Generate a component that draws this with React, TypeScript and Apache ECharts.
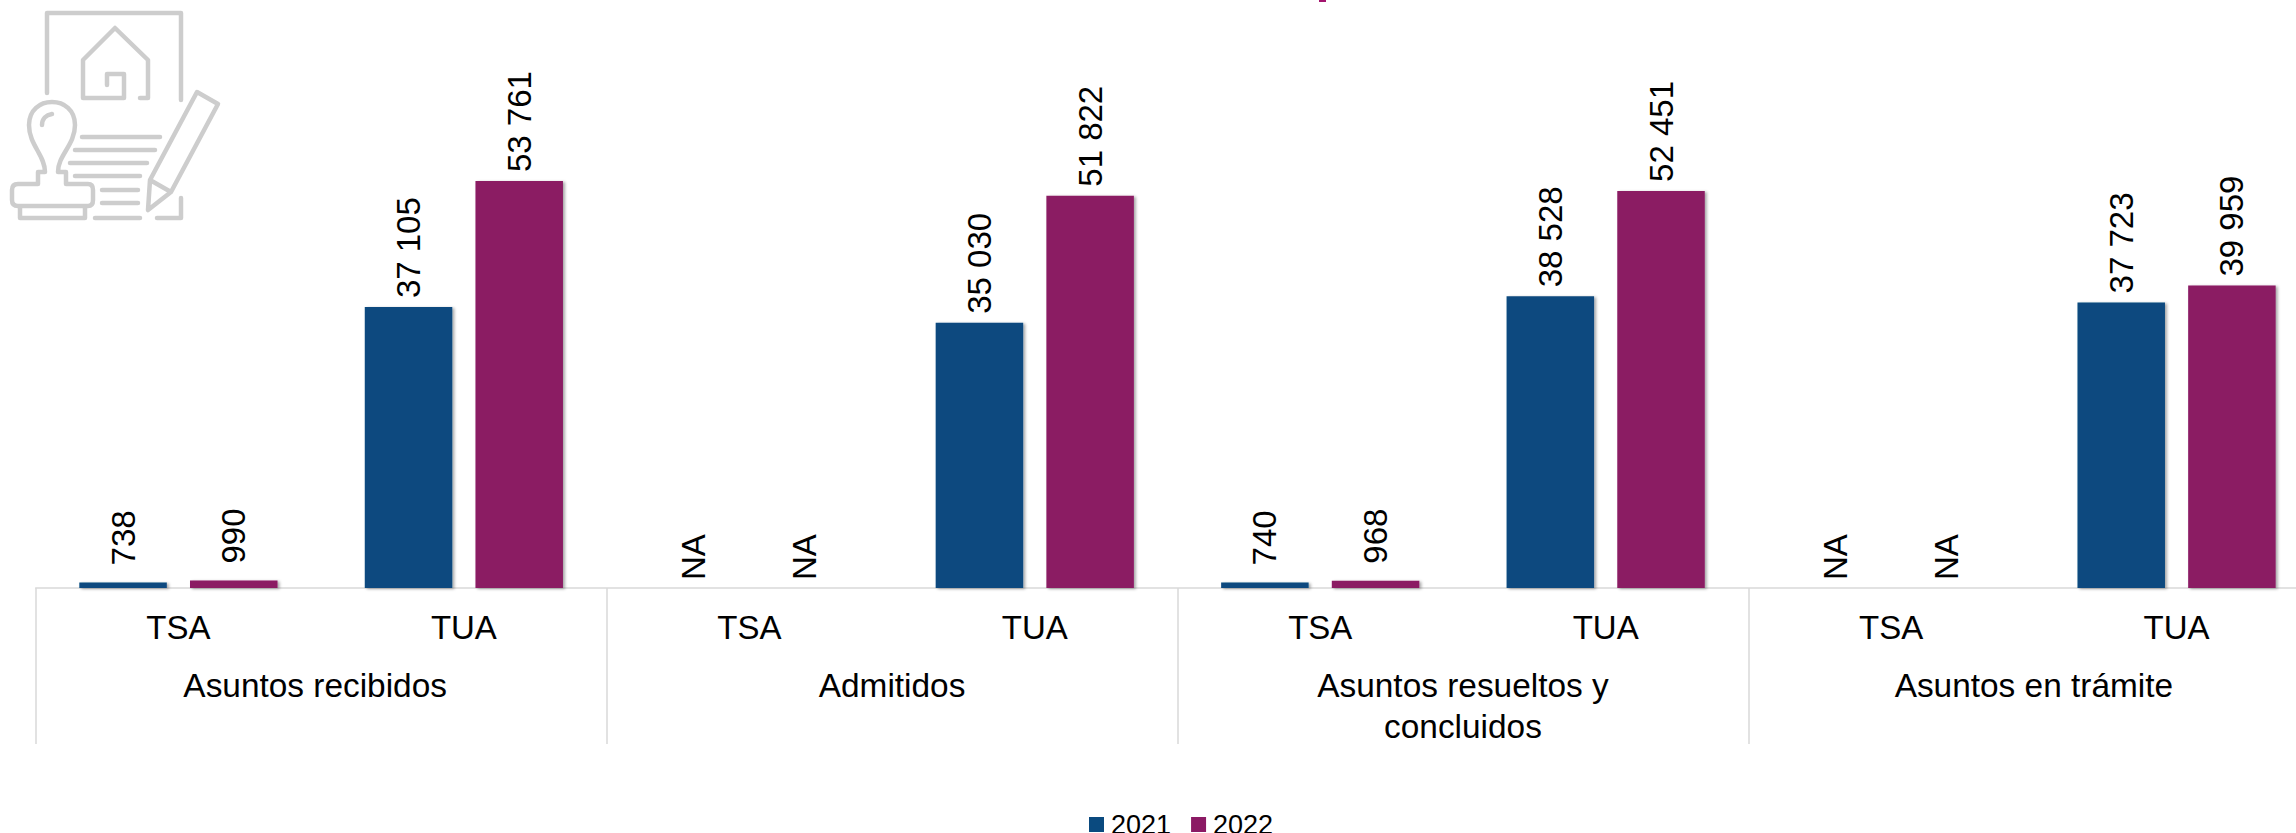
import React, { useEffect, useRef } from "react";
import * as echarts from "echarts";

const groups = ["Asuntos recibidos", "Admitidos", "Asuntos resueltos y\nconcluidos", "Asuntos en trámite"];
const tribunals = ["TSA", "TUA", "TSA", "TUA", "TSA", "TUA", "TSA", "TUA"];
const years = ["2021", "2022"];
const values2021: (number | null)[] = [738, 37105, null, 35030, 740, 38528, null, 37723];
const values2022: (number | null)[] = [990, 53761, null, 51822, 968, 52451, null, 39959];
const colors = ["#0A4A7F", "#8B1A64"];

const iconPath =
  "M47 93V13H181V100M181 198V218H157M95 218H140" +
  "M124 74V98H83V60L115 28L148 60V98H140M124 74H107V85" +
  "M197 92L218 104L171 192L148 210L150 180ZM150 180L171 192" +
  "M82 137H160M75 150H155M70 163H147M75 176H140M102 190H138M102 203H138" +
  "M45 172C45 155 29 145 29 125C29 110 40 102 52 102C64 102 75 110 75 125C75 145 58 155 58 172" +
  "M42 125C42 119 46 115 52 114" +
  "M45 172H38V184H18C14 184 12 186 12 190V200C12 204 14 206 18 206H88C91 206 93 204 93 200V190C93 186 91 184 88 184H66V172H58" +
  "M20 206V218H85V206";

echarts.graphic.registerShape("stampIcon", echarts.graphic.extendPath(iconPath, {}));

const fmt = (v: number | null) =>
  v === null ? "NA" : String(v).replace(/\B(?=(\d{3})+$)/g, " ");

const font = "'Liberation Sans', Arial, sans-serif";

export default function App() {
  const ref = useRef<HTMLDivElement>(null);
  useEffect(() => {
    const chart = echarts.init(ref.current!, undefined, { renderer: "svg" });
    const bar = (name: string, vals: (number | null)[], color: string) => ({
      name,
      type: "bar",
      xAxisIndex: 0,
      barWidth: 87.5,
      barGap: "26.5%",
      itemStyle: {
        color,
        shadowColor: "rgba(0,0,0,0.35)",
        shadowBlur: 3,
        shadowOffsetX: 2,
        shadowOffsetY: 1,
      },
      data: vals.map((v) => ({
        value: v ?? 0,
        label: { distance: v === null ? 8 : v < 1000 ? 17 : 9 },
      })),
      label: {
        show: true,
        position: "top",
        rotate: 90,
        align: "left",
        verticalAlign: "middle",
        color: "#000",
        fontFamily: font,
        fontSize: 33,
        formatter: (p: any) => fmt(vals[p.dataIndex]),
      },
    });
    chart.setOption({
      animation: false,
      backgroundColor: "#fff",
      grid: { left: 35.7, top: 133.8, width: 2283.6, height: 454.2 },
      legend: {
        left: 1089,
        top: 811,
        padding: 0,
        itemWidth: 15,
        itemHeight: 15,
        itemGap: 20,
        icon: "rect",
        data: years,
        textStyle: { color: "#000", fontFamily: font, fontSize: 27, lineHeight: 19, padding: [0, 0, 3, 2] },
      },
      xAxis: [
        {
          type: "category",
          data: tribunals,
          position: "bottom",
          axisLine: { show: true, lineStyle: { color: "#D9D9D9", width: 1.5 } },
          axisTick: { show: false },
          axisLabel: { color: "#000", fontFamily: font, fontSize: 33, margin: 23, interval: 0 },
        },
        {
          type: "category",
          data: groups.map((g, i) => (i === 0 ? { value: g, textStyle: { padding: [0, 12, 0, 0] } } : g)),
          position: "bottom",
          axisLine: { show: false },
          axisTick: { show: true, length: 156, lineStyle: { color: "#D9D9D9", width: 1.5 } },
          axisLabel: {
            color: "#000",
            fontFamily: font,
            fontSize: 33.4,
            lineHeight: 41,
            margin: 77,
            interval: 0,
            verticalAlign: "top",
          },
        },
      ],
      yAxis: { type: "value", min: 0, max: 60000, show: false },
      series: [bar(years[0], values2021, colors[0]), bar(years[1], values2022, colors[1])],
      graphic: [
        {
          type: "stampIcon",
          x: 0,
          y: 0,
          style: {
            fill: "none",
            stroke: "#CDCDCD",
            lineWidth: 4.5,
            lineCap: "round",
            lineJoin: "round",
          },
        },
        { type: "rect", shape: { x: 1319, y: 0, width: 7, height: 2 }, style: { fill: "#A3146E" } },
      ],
    });
    return () => chart.dispose();
  }, []);
  return (
    <div style={{ position: "fixed", left: 0, top: 0, width: 2296, height: 833, overflow: "hidden" }}>
      <div ref={ref} style={{ width: 2340, height: 833 }} />
    </div>
  );
}
